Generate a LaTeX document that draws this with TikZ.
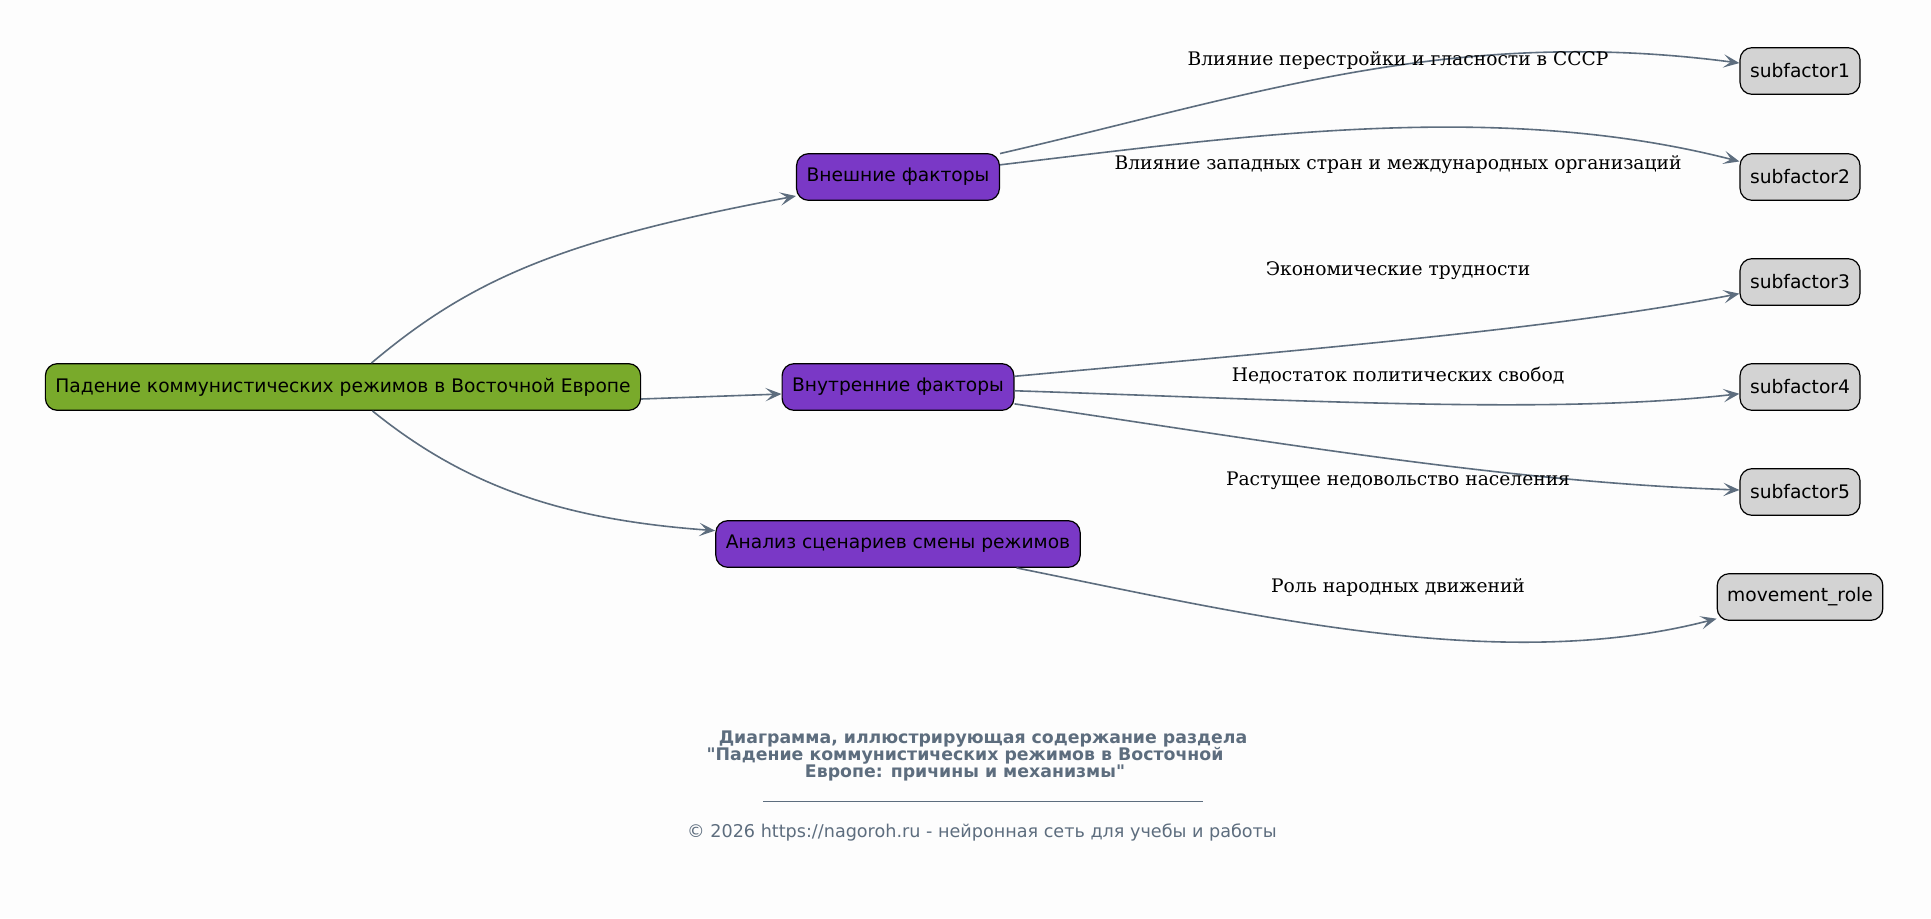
\documentclass[tikz,border=0pt]{standalone}
\usepackage{fontspec}
\setmainfont{DejaVu Serif}
\newfontfamily\boxfont{DejaVu Sans}
\usetikzlibrary{arrows.meta,backgrounds}

\definecolor{rootgreen}{HTML}{79AA2B}
\definecolor{factpurple}{HTML}{7A38C6}
\definecolor{subgray}{HTML}{D3D3D3}
\definecolor{slate}{HTML}{5D6D7E}
\definecolor{paper}{HTML}{FDFDFD}

\tikzset{
  box/.style={draw=black, line width=0.9pt, rounded corners=9pt, font=\boxfont\fontsize{14}{16}\selectfont,
    minimum height=35pt, inner xsep=7.5pt, text=black},
  rootbox/.style={box, fill=rootgreen},
  factbox/.style={box, fill=factpurple},
  subbox/.style={box, fill=subgray},
  edge/.style={draw=slate, line width=1.2pt, -{Stealth[length=12pt,width=10pt,inset=5.5pt]}},
  elabel/.style={font=\fontsize{14}{16}\selectfont, text=black},
  capline/.style={font=\boxfont\bfseries\fontsize{13}{15}\selectfont}
}

\begin{document}
\begin{tikzpicture}[x=0.75pt,y=-0.75pt]

\fill[paper] (0,0) rectangle (1931,918);
\useasboundingbox (0,0) rectangle (1931,918);

% main node and factors
\node[rootbox] (root) at (343,387) {Падение коммунистических режимов в Восточной Европе};
\node[factbox] (ext) at (898,177) {Внешние факторы};
\node[factbox] (int) at (898,387) {Внутренние факторы};
\node[factbox] (scen) at (898,544) {Анализ сценариев смены режимов};

% subfactors
\node[subbox] (sub1) at (1800,71) {subfactor1};
\node[subbox] (sub2) at (1800,177) {subfactor2};
\node[subbox] (sub3) at (1800,282) {subfactor3};
\node[subbox] (sub4) at (1800,387) {subfactor4};
\node[subbox] (sub5) at (1800,492) {subfactor5};
\node[subbox] (move) at (1800,597) {movement\_role};

% edges
\draw[edge] (root) .. controls (470,280) and (560,240) .. (ext);
\draw[edge] ([yshift=-9pt]root.east) -- ([yshift=-5.25pt]int.west);
\draw[edge] (root) .. controls (470,490) and (570,520) .. (scen);

\draw[edge] (ext) .. controls (1250,96) and (1450,25) .. (sub1);
\draw[edge] (ext) .. controls (1250,135) and (1500,100) .. (sub2);
\draw[edge] (int) .. controls (1300,350) and (1550,330) .. (sub3);
\draw[edge] (int) .. controls (1300,400) and (1550,415) .. (sub4);
\draw[edge] (int) .. controls (1250,438) and (1500,482) .. (sub5);
\draw[edge] (scen) .. controls (1250,615) and (1500,675) .. (move);

% edge labels
\node[elabel] (lab1) at (1398,60) {Влияние перестройки и гласности в СССР};
\node[elabel] (lab2) at (1398,165) {Влияние западных стран и международных организаций};
\node[elabel] (lab3) at (1398,271) {Экономические трудности};
\node[elabel] (lab4) at (1398,376) {Недостаток политических свобод};
\node[elabel] (lab5) at (1398,481) {Растущее недовольство населения};
\node[elabel] (lab6) at (1398,587) {Роль народных движений};

% caption
\begin{scope}[text=slate]
  \node[capline] (title1) at (983,739) {Диаграмма, иллюстрирующая содержание раздела};
  \node[capline] (title2) at (965,756) {"Падение коммунистических режимов в Восточной};
  \node[capline] (title3) at (965,773) {Европе: причины и механизмы"};
  \draw[slate, line width=0.75pt] (763,801) -- (1203,801);
  \node[font=\boxfont\fontsize{13.2}{15}\selectfont] (copy) at (982,832) {© 2026 https://nagoroh.ru - нейронная сеть для учебы и работы};
\end{scope}

\end{tikzpicture}
\end{document}
